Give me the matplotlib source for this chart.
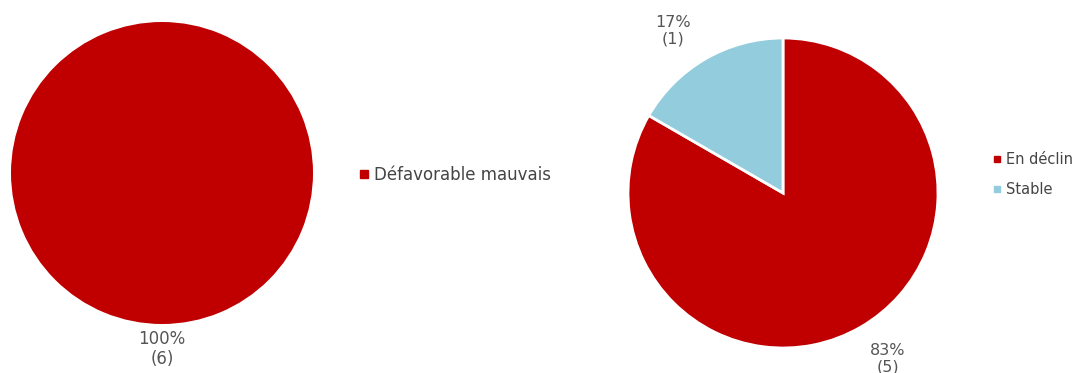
import matplotlib.pyplot as plt
from matplotlib.lines import Line2D

# État de conservation
etat_labels = ['Défavorable mauvais']
etat_counts = [6]
etat_colors = ['#C00000']

# Tendance
tend_labels = ['En déclin', 'Stable']
tend_counts = [5, 1]
tend_colors = ['#C00000', '#93CDDD']

W, H = 1083, 373
fig = plt.figure(figsize=(W / 100, H / 100), dpi=100)
txt_color = '#555555'


def pie_axes(cx, cy, r):
    # cx, cy en pixels depuis le coin haut gauche
    return fig.add_axes([(cx - r) / W, (H - cy - r) / H, 2 * r / W, 2 * r / H])


def label(n, total):
    return f"{round(100 * n / total)}%\n({n})"


# Camembert de gauche
ax1 = pie_axes(162, 173, 151)
ax1.pie(etat_counts, colors=etat_colors, startangle=90, counterclock=False,
        radius=1, wedgeprops=dict(edgecolor='none'))
ax1.set_xlim(-1, 1)
ax1.set_ylim(-1, 1)
ax1.axis('off')
tot1 = sum(etat_counts)
ax1.text(0, -(349 - 173) / 151, label(etat_counts[0], tot1), ha='center',
         va='center', fontsize=12, color=txt_color, linespacing=1.1)

fig.legend(handles=[Line2D([], [], marker='s', ls='', color=c, markersize=5.5)
                    for c in etat_colors],
           labels=etat_labels, loc='center left',
           bbox_to_anchor=(359 / W, 1 - 175 / H), frameon=False,
           fontsize=12, labelcolor='#444444', handletextpad=0.3,
           handlelength=0.6, borderpad=0, borderaxespad=0)

# Camembert de droite
ax2 = pie_axes(783, 193, 155)
tot2 = sum(tend_counts)
ax2.pie(tend_counts, colors=tend_colors, startangle=90, counterclock=False,
        radius=1, wedgeprops=dict(edgecolor='white', linewidth=2))
ax2.set_xlim(-1, 1)
ax2.set_ylim(-1, 1)
ax2.axis('off')
ax2.text((888 - 783) / 155, -(359 - 193) / 155, label(tend_counts[0], tot2),
         ha='center', va='center', fontsize=11.5, color=txt_color,
         linespacing=1.15)
ax2.text((673 - 783) / 155, (193 - 31) / 155, label(tend_counts[1], tot2),
         ha='center', va='center', fontsize=11.5, color=txt_color,
         linespacing=1.15)

fig.legend(handles=[Line2D([], [], marker='s', ls='', color=c, markersize=4.3)
                    for c in tend_colors],
           labels=tend_labels, loc='center left',
           bbox_to_anchor=(993 / W, 1 - 174.5 / H), frameon=False,
           fontsize=10.5, labelcolor='#444444', handletextpad=0.3,
           handlelength=0.6, labelspacing=1.05, borderpad=0,
           borderaxespad=0)

fig.savefig('out.png', dpi=100)
